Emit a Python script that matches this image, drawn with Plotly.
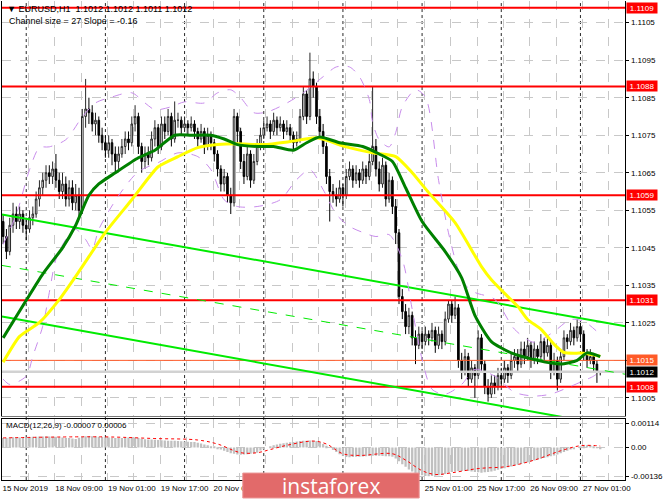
import plotly.graph_objects as go

W, H = 665, 499

# ---------------- price data (EURUSD H1) ----------------
open_ = [1.1052,1.1048,1.1044,1.1051,1.1054,1.1052,1.1054,1.1051,1.1050,1.1053,
 1.1054,1.1058,1.1061,1.1063,1.1065,1.1064,1.1066,1.1063,1.1060,1.1062,
 1.1058,1.1061,1.1057,1.1059,1.1055,1.1080,1.1082,1.1081,1.1078,1.1079,
 1.1075,1.1073,1.1071,1.1073,1.1070,1.1068,1.1070,1.1072,1.1074,1.1073,
 1.1078,1.1080,1.1072,1.1068,1.1070,1.1069,1.1074,1.1077,1.1072,1.1078,
 1.1076,1.1080,1.1074,1.1079,1.1079,1.1077,1.1078,1.1077,1.1078,1.1076,
 1.1074,1.1076,1.1072,1.1075,1.1073,1.1070,1.1066,1.1062,1.1064,1.1059,
 1.1057,1.1080,1.1076,1.1068,1.1064,1.1070,1.1063,1.1068,1.1072,1.1075,
 1.1077,1.1078,1.1076,1.1079,1.1077,1.1078,1.1076,1.1077,1.1075,1.1073,
 1.1074,1.1080,1.1086,1.1080,1.1090,1.1088,1.1080,1.1076,1.1072,1.1064,
 1.1060,1.1059,1.1058,1.1061,1.1059,1.1064,1.1066,1.1063,1.1065,1.1063,
 1.1066,1.1064,1.1068,1.1072,1.1066,1.1062,1.1067,1.1058,1.1063,1.1056,
 1.1049,1.1032,1.1028,1.1024,1.1027,1.1021,1.1019,1.1022,1.1020,1.1022,
 1.1021,1.1023,1.1019,1.1022,1.1020,1.1026,1.1030,1.1027,1.1029,1.1015,
 1.1012,1.1016,1.1010,1.1013,1.1011,1.1021,1.1014,1.1008,1.1006,1.1009,
 1.1008,1.1011,1.1010,1.1013,1.1011,1.1015,1.1016,1.1014,1.1018,1.1016,
 1.1019,1.1015,1.1018,1.1016,1.1020,1.1017,1.1019,1.1012,1.1015,1.1010,
 1.1016,1.1021,1.1020,1.1023,1.1021,1.1024,1.1022,1.1017,1.1015,1.1016,
 1.1014,1.1012]

high = [1.1054,1.1050,1.1053,1.1057,1.1056,1.1056,1.1055,1.1053,1.1055,1.1056,
 1.1060,1.1063,1.1065,1.1067,1.1067,1.1068,1.1070,1.1065,1.1065,1.1064,
 1.1063,1.1063,1.1062,1.1061,1.1082,1.1090,1.1085,1.1083,1.1081,1.1080,
 1.1077,1.1075,1.1075,1.1074,1.1072,1.1072,1.1074,1.1076,1.1076,1.1080,
 1.1083,1.1081,1.1073,1.1072,1.1072,1.1076,1.1079,1.1078,1.1080,1.1080,
 1.1082,1.1081,1.1084,1.1081,1.1080,1.1080,1.1079,1.1080,1.1079,1.1077,
 1.1078,1.1077,1.1077,1.1076,1.1074,1.1071,1.1067,1.1066,1.1065,1.1061,
 1.1082,1.1081,1.1077,1.1070,1.1072,1.1071,1.1070,1.1074,1.1077,1.1079,
 1.1080,1.1079,1.1081,1.1080,1.1080,1.1079,1.1079,1.1078,1.1076,1.1076,
 1.1082,1.1088,1.1087,1.1097,1.1092,1.1089,1.1082,1.1078,1.1073,1.1066,
 1.1062,1.1061,1.1063,1.1062,1.1066,1.1068,1.1067,1.1067,1.1066,1.1068,
 1.1067,1.1070,1.1088,1.1074,1.1068,1.1069,1.1068,1.1065,1.1064,1.1058,
 1.1050,1.1034,1.1030,1.1029,1.1028,1.1023,1.1024,1.1023,1.1024,1.1023,
 1.1025,1.1024,1.1024,1.1023,1.1028,1.1031,1.1031,1.1032,1.1030,1.1017,
 1.1018,1.1017,1.1015,1.1014,1.1023,1.1022,1.1015,1.1010,1.1011,1.1011,
 1.1013,1.1013,1.1015,1.1014,1.1017,1.1018,1.1018,1.1020,1.1020,1.1021,
 1.1020,1.1020,1.1019,1.1022,1.1021,1.1021,1.1020,1.1017,1.1016,1.1018,
 1.1023,1.1022,1.1025,1.1024,1.1026,1.1025,1.1023,1.1018,1.1018,1.1017,
 1.1015,1.1012]

low = [1.1046,1.1042,1.1043,1.1049,1.1050,1.1050,1.1049,1.1047,1.1049,1.1051,
 1.1053,1.1056,1.1059,1.1061,1.1062,1.1062,1.1061,1.1058,1.1058,1.1056,
 1.1056,1.1055,1.1055,1.1053,1.1054,1.1077,1.1078,1.1076,1.1075,1.1073,
 1.1071,1.1069,1.1069,1.1067,1.1065,1.1066,1.1069,1.1070,1.1071,1.1072,
 1.1076,1.1070,1.1065,1.1066,1.1067,1.1068,1.1072,1.1070,1.1071,1.1074,
 1.1075,1.1072,1.1073,1.1077,1.1075,1.1076,1.1075,1.1076,1.1074,1.1072,
 1.1073,1.1070,1.1071,1.1071,1.1068,1.1064,1.1060,1.1060,1.1057,1.1054,
 1.1056,1.1073,1.1066,1.1062,1.1063,1.1061,1.1062,1.1067,1.1071,1.1074,
 1.1076,1.1074,1.1075,1.1075,1.1076,1.1074,1.1075,1.1073,1.1071,1.1072,
 1.1073,1.1079,1.1078,1.1079,1.1085,1.1078,1.1074,1.1070,1.1062,1.1052,
 1.1057,1.1056,1.1057,1.1056,1.1058,1.1063,1.1061,1.1062,1.1061,1.1062,
 1.1062,1.1063,1.1067,1.1064,1.1060,1.1061,1.1056,1.1057,1.1054,1.1046,
 1.1030,1.1026,1.1022,1.1022,1.1019,1.1014,1.1018,1.1018,1.1019,1.1019,
 1.1020,1.1017,1.1018,1.1018,1.1019,1.1025,1.1025,1.1026,1.1013,1.1010,
 1.1011,1.1008,1.1009,1.1005,1.1010,1.1012,1.1006,1.1004,1.1005,1.1006,
 1.1007,1.1008,1.1009,1.1009,1.1010,1.1013,1.1012,1.1013,1.1014,1.1015,
 1.1013,1.1014,1.1014,1.1015,1.1015,1.1016,1.1010,1.1011,1.1007,1.1009,
 1.1015,1.1018,1.1019,1.1019,1.1020,1.1020,1.1015,1.1013,1.1014,1.1012,
 1.1009,1.1011]

close = [1.1048,1.1044,1.1051,1.1054,1.1052,1.1054,1.1051,1.1050,1.1053,1.1054,
 1.1058,1.1061,1.1063,1.1065,1.1064,1.1066,1.1063,1.1060,1.1062,1.1058,
 1.1061,1.1057,1.1059,1.1055,1.1080,1.1082,1.1081,1.1078,1.1079,1.1075,
 1.1073,1.1071,1.1073,1.1070,1.1068,1.1070,1.1072,1.1074,1.1073,1.1078,
 1.1080,1.1072,1.1068,1.1070,1.1069,1.1074,1.1077,1.1072,1.1078,1.1076,
 1.1080,1.1074,1.1079,1.1079,1.1077,1.1078,1.1077,1.1078,1.1076,1.1074,
 1.1076,1.1072,1.1075,1.1073,1.1070,1.1066,1.1062,1.1064,1.1059,1.1057,
 1.1080,1.1076,1.1068,1.1064,1.1070,1.1063,1.1068,1.1072,1.1075,1.1077,
 1.1078,1.1076,1.1079,1.1077,1.1078,1.1076,1.1077,1.1075,1.1073,1.1074,
 1.1080,1.1086,1.1080,1.1090,1.1088,1.1080,1.1076,1.1072,1.1064,1.1060,
 1.1059,1.1058,1.1061,1.1059,1.1064,1.1066,1.1063,1.1065,1.1063,1.1066,
 1.1064,1.1068,1.1072,1.1066,1.1062,1.1067,1.1058,1.1063,1.1056,1.1049,
 1.1032,1.1028,1.1024,1.1027,1.1021,1.1019,1.1022,1.1020,1.1022,1.1021,
 1.1023,1.1019,1.1022,1.1020,1.1026,1.1030,1.1027,1.1029,1.1015,1.1012,
 1.1016,1.1010,1.1013,1.1011,1.1021,1.1014,1.1008,1.1006,1.1009,1.1008,
 1.1011,1.1010,1.1013,1.1011,1.1015,1.1016,1.1014,1.1018,1.1016,1.1019,
 1.1015,1.1018,1.1016,1.1020,1.1017,1.1019,1.1012,1.1015,1.1010,1.1016,
 1.1021,1.1020,1.1023,1.1021,1.1024,1.1022,1.1017,1.1015,1.1016,1.1014,
 1.1012,1.1012]

bars = list(range(len(close)))

# moving averages
ma_green_x = [0, 7, 12, 18, 22, 26, 29, 34, 41, 46, 52, 57, 63, 67, 71, 77, 82, 88, 92, 96,
              102, 109, 114, 118, 122, 127, 134, 139, 143, 148, 154, 162, 169, 174, 177, 181]
ma_green = [1.1021, 1.1031, 1.1038, 1.1045, 1.1051, 1.1059, 1.1062, 1.1065, 1.1069, 1.1071,
            1.1075, 1.1075, 1.1075, 1.1074, 1.10725, 1.1072, 1.1072, 1.1071, 1.1073, 1.10745,
            1.1073, 1.1072, 1.1070, 1.1068, 1.1061, 1.1052, 1.1044, 1.1037, 1.1027, 1.1020,
            1.1017, 1.1015, 1.1014, 1.1015, 1.1017, 1.1016]

ma_yellow_x = [0, 5, 11, 17, 23, 31, 39, 47, 53, 59, 65, 71, 79, 87, 95, 104, 112, 119, 124,
               129, 137, 145, 148, 153, 156, 159, 163, 167, 170, 176, 181]
ma_yellow = [1.10145, 1.10214, 1.10251, 1.10312, 1.10387, 1.10491, 1.10578, 1.10666, 1.10693,
             1.10717, 1.10725, 1.10727, 1.10725, 1.10733, 1.10743, 1.10719, 1.10703, 1.10693,
             1.10650, 1.10597, 1.10517, 1.10400, 1.10365, 1.10320, 1.10294, 1.10259, 1.10233,
             1.10193, 1.10171, 1.10169, 1.10161]

# bollinger-style bands
bb_up_x = [0, 4, 8, 11, 14, 19, 24, 28, 33, 39, 43, 46, 51, 55, 61, 65, 69, 72, 76, 80,
           85, 91, 97, 101, 105, 108, 111, 112, 114, 117, 119, 121, 125, 128, 132, 135, 138, 140,
           143, 149, 155, 161, 167, 172, 176, 181]
bb_up = [1.10459, 1.10539, 1.10658, 1.10717, 1.10719, 1.10738, 1.10799, 1.10836, 1.10852, 1.10863,
         1.10836, 1.10818, 1.10826, 1.10839, 1.10836, 1.10863, 1.10871, 1.10850, 1.10810, 1.10812,
         1.10831, 1.10863, 1.10906, 1.10932, 1.10932, 1.10906, 1.10845, 1.10784, 1.10738, 1.10719,
         1.10757, 1.10826, 1.10871, 1.10852, 1.10630, 1.10490, 1.10390, 1.10352, 1.10331, 1.10313,
         1.10233, 1.10198, 1.10227, 1.10259, 1.10254, 1.10219]
bb_lo_x = [0, 2, 7, 9, 12, 14, 16, 19, 22, 25, 27, 29, 35, 41, 47, 53, 59, 63, 67, 71,
           77, 84, 89, 93, 97, 101, 105, 109, 113, 117, 121, 124, 127, 130, 134, 139, 143, 149,
           155, 161, 166, 170, 175, 179, 181]
bb_lo = [1.10100, 1.10086, 1.10108, 1.10161, 1.10241, 1.10331, 1.10419, 1.10472, 1.10499, 1.10472,
         1.10446, 1.10499, 1.10589, 1.10653, 1.10677, 1.10703, 1.10693, 1.10658, 1.10578, 1.10560,
         1.10560, 1.10578, 1.10632, 1.10658, 1.10605, 1.10539, 1.10507, 1.10491, 1.10480, 1.10485,
         1.10419, 1.10286, 1.10153, 1.10073, 1.10060, 1.10086, 1.10126, 1.10108, 1.10065, 1.10055,
         1.10060, 1.10073, 1.10092, 1.10108, 1.10121]

# regression channel (two anchor points each)
channel_x = [-0.35, 188.6]
channel_upper = [1.10539, 1.10241]
channel_mid = [1.10403, 1.10113]
channel_lower = [1.10267, 1.09969]

# horizontal levels
red_levels = [1.1109, 1.1088, 1.1059, 1.1031, 1.1008]
orange_level = 1.1015
bid_level = 1.1012

# MACD (x 1e-5)
macd_hist_e5 = [44,45,47,48,48,47,47,48,49,50,
 51,52,52,53,52,51,50,48,47,45,
 44,42,40,46,50,53,54,53,52,50,
 49,48,47,46,45,45,45,46,47,48,
 47,44,41,39,38,37,36,35,34,33,
 32,31,31,30,29,28,27,26,25,22,
 18,14,10,6,2,-4,-10,-16,-22,-28,
 -30,-33,-35,-34,-32,-30,-28,-25,-15,-6,
 0,6,10,14,17,20,22,24,26,28,
 30,31,32,33,32,30,24,16,8,0,
 -12,-22,-32,-40,-45,-46,-45,-44,-44,-43,
 -42,-41,-40,-40,-40,-41,-42,-42,-44,-52,
 -65,-80,-92,-104,-114,-122,-128,-132,-135,-136,
 -135,-134,-132,-130,-126,-120,-116,-114,-112,-111,
 -110,-112,-114,-116,-118,-120,-118,-116,-114,-110,
 -106,-102,-98,-94,-90,-86,-82,-78,-74,-70,
 -66,-62,-58,-54,-50,-46,-42,-38,-33,-28,
 -22,-16,-10,-4,0,4,8,10,10,6,
 -2,-7]
macd_sig_x = [0, 30, 46, 59, 65, 72, 77, 81, 86, 94, 98, 103, 108, 118, 122, 127, 131, 136,
              144, 153, 161, 169, 175, 180, 181]
macd_sig_e5 = [45, 50, 42, 35, 16, -25, -25, -10, 10, 30, 16, -30, -38, -30, -60, -110, -128,
               -120, -100, -90, -60, -16, 8, 8, 6]

# axes
price_ticks = [1.1005, 1.1015, 1.1025, 1.1035, 1.1045, 1.1055, 1.1065, 1.1075, 1.1085, 1.1095, 1.1105]
macd_ticks = [0.00114, 0.0, -0.00136]
macd_tick_text = ["0.00114", "0.00", "-0.00136"]
date_labels = ["15 Nov 2019", "18 Nov 09:00", "19 Nov 01:00", "19 Nov 17:00", "20 Nov 09:00",
               "21 Nov 01:00", "21 Nov 17:00", "22 Nov 09:00", "25 Nov 01:00", "25 Nov 17:00",
               "26 Nov 09:00", "27 Nov 01:00"]
# labels fully hidden behind the watermark in the original are left blank
hidden_labels = {"21 Nov 01:00", "21 Nov 17:00", "22 Nov 09:00"}
grid_bars = [-0.35 + 8 * k for k in range(24)]
grid_text = [(date_labels[k // 2] if date_labels[k // 2] not in hidden_labels else "")
             if k % 2 == 0 else "" for k in range(24)]
day_separators = [7, 31, 55, 79, 103, 127, 151, 175]

x_range = [-0.35, 188.6]
FONT = "Liberation Sans"
GRID = "rgb(200,200,200)"

fig = go.Figure()

# levels
for lv in red_levels:
    fig.add_trace(go.Scatter(x=x_range, y=[lv, lv], mode="lines",
                             line=dict(color="rgb(255,0,0)", width=2), hoverinfo="skip"))
fig.add_trace(go.Scatter(x=x_range, y=[bid_level, bid_level], mode="lines",
                         line=dict(color="rgb(210,210,210)", width=2.5), hoverinfo="skip"))
fig.add_trace(go.Scatter(x=x_range, y=[orange_level, orange_level], mode="lines",
                         line=dict(color="rgb(255,90,40)", width=1), hoverinfo="skip"))

# channel
fig.add_trace(go.Scatter(x=channel_x, y=channel_upper, mode="lines",
                         line=dict(color="rgb(0,235,0)", width=2), hoverinfo="skip"))
fig.add_trace(go.Scatter(x=channel_x, y=channel_mid, mode="lines",
                         line=dict(color="rgb(0,235,0)", width=1, dash="dash"), hoverinfo="skip"))
fig.add_trace(go.Scatter(x=channel_x, y=channel_lower, mode="lines",
                         line=dict(color="rgb(0,235,0)", width=2), hoverinfo="skip"))

# candles
fig.add_trace(go.Candlestick(
    x=bars, open=open_, high=high, low=low, close=close,
    increasing=dict(line=dict(color="rgb(40,40,40)", width=1), fillcolor="white"),
    decreasing=dict(line=dict(color="black", width=1), fillcolor="black"),
    whiskerwidth=0, hoverinfo="skip"))

# bands
for bx, by in ((bb_up_x, bb_up), (bb_lo_x, bb_lo)):
    fig.add_trace(go.Scatter(x=bx, y=by, mode="lines",
                             line=dict(color="rgb(200,140,235)", width=1, dash="dash",
                                       shape="spline", smoothing=0.8), hoverinfo="skip"))

# MAs
fig.add_trace(go.Scatter(x=ma_yellow_x, y=ma_yellow, mode="lines",
                         line=dict(color="rgb(255,255,0)", width=3, shape="spline", smoothing=0.6),
                         hoverinfo="skip"))
fig.add_trace(go.Scatter(x=ma_green_x, y=ma_green, mode="lines",
                         line=dict(color="rgb(0,128,0)", width=3, shape="spline", smoothing=0.6),
                         hoverinfo="skip"))

# MACD
fig.add_trace(go.Bar(x=bars, y=[v * 1e-5 for v in macd_hist_e5], width=0.7,
                     marker=dict(color="rgb(192,192,192)", line=dict(width=0)),
                     xaxis="x2", yaxis="y2", hoverinfo="skip"))
fig.add_trace(go.Scatter(x=macd_sig_x, y=[v * 1e-5 for v in macd_sig_e5], mode="lines",
                         line=dict(color="rgb(255,0,0)", width=1, dash="dot", shape="spline"),
                         xaxis="x2", yaxis="y2", hoverinfo="skip"))

shapes = []
for b in day_separators:
    shapes.append(dict(type="line", xref="x", yref="paper", x0=b, x1=b,
                       y0=1 - 481 / H, y1=1, line=dict(color="rgb(40,40,40)", width=1, dash="dot"),
                       layer="between"))
# watermark
shapes.append(dict(type="rect", xref="paper", yref="paper", x0=245 / W, x1=423 / W,
                   y0=0, y1=1 - 474 / H, fillcolor="rgb(226,106,106)",
                   line=dict(color="rgb(236,150,150)", width=1), layer="above"))

box_font = dict(family=FONT, size=8, color="white")
annotations = []
for lv in red_levels:
    annotations.append(dict(x=632 / W, xref="paper", y=lv, yref="y", xanchor="left",
                            text=f"{lv:.4f}", showarrow=False, bgcolor="rgb(255,0,0)",
                            font=box_font, width=30, height=10, borderpad=0))
annotations.append(dict(x=632 / W, xref="paper", y=orange_level, yref="y", xanchor="left",
                        text=f"{orange_level:.4f}", showarrow=False, bgcolor="rgb(255,90,40)",
                        font=box_font, width=30, height=10, borderpad=0))
annotations.append(dict(x=632 / W, xref="paper", y=bid_level, yref="y", xanchor="left",
                        text=f"{bid_level:.4f}", showarrow=False, bgcolor="black",
                        font=box_font, width=30, height=10, borderpad=0))
annotations.append(dict(x=5 / W, xref="paper", y=1 - 9 / H, yref="paper", xanchor="left",
                        yanchor="middle", showarrow=False,
                        text="▼ EURUSD,H1  1.1012 1.1012 1.1011 1.1012",
                        font=dict(family=FONT, size=9, color="black")))
annotations.append(dict(x=7 / W, xref="paper", y=1 - 21 / H, yref="paper", xanchor="left",
                        yanchor="middle", showarrow=False,
                        text="Channel size = 27 Slope = -0.16",
                        font=dict(family=FONT, size=9, color="black")))
annotations.append(dict(x=4 / W, xref="paper", y=1 - 426 / H, yref="paper", xanchor="left",
                        yanchor="middle", showarrow=False,
                        text="MACD(12,26,9) -0.00007 0.00006",
                        font=dict(family=FONT, size=8, color="black")))
annotations.append(dict(x=334 / W, xref="paper", y=1 - 487 / H, yref="paper", xanchor="center",
                        yanchor="middle", showarrow=False, text="instaforex",
                        font=dict(family="Open Sans", size=21, color="white")))

axis_font = dict(family=FONT, size=8, color="black")
fig.update_layout(
    width=W, height=H, margin=dict(l=0, r=0, t=0, b=0),
    paper_bgcolor="white", plot_bgcolor="white", showlegend=False,
    shapes=shapes, annotations=annotations,
    xaxis=dict(domain=[2 / W, 631 / W], range=x_range, anchor="y", tickvals=grid_bars,
               showticklabels=False, ticks="", showgrid=True, gridcolor=GRID, griddash="dash",
               zeroline=False, showline=True, linecolor="rgb(120,120,120)",
               rangeslider=dict(visible=False), fixedrange=True),
    yaxis=dict(domain=[1 - 417 / H, 1 - 1 / H], range=[1.100013, 1.111077], anchor="x",
               side="right", tickvals=price_ticks, ticktext=[f"{v:.4f}" for v in price_ticks],
               ticks="outside", ticklen=3, tickcolor="black", tickfont=axis_font,
               showgrid=True, gridcolor=GRID, griddash="dash", zeroline=False,
               showline=True, linecolor="black", mirror=True, fixedrange=True),
    xaxis2=dict(domain=[2 / W, 631 / W], range=x_range, anchor="y2", tickvals=grid_bars,
                ticktext=grid_text, ticklabelposition="outside right", tickangle=0, ticks="",
                tickfont=axis_font, showgrid=True, gridcolor=GRID, griddash="dash",
                zeroline=False, showline=True, linecolor="black", mirror=True, fixedrange=True),
    yaxis2=dict(domain=[1 - 481 / H, 1 - 420 / H], range=[-0.001543, 0.001336], anchor="x2",
                side="right", tickvals=macd_ticks, ticktext=macd_tick_text, ticks="outside",
                ticklen=3, tickcolor="black", tickfont=axis_font, showgrid=True,
                gridcolor=GRID, griddash="dash", zeroline=False, showline=True,
                linecolor="black", mirror=True, fixedrange=True),
    bargap=0.3,
)

fig.write_html("out.html", config={"displayModeBar": False},
               post_script="document.body.style.margin='0';document.body.style.padding='0';"
                           "document.documentElement.style.overflow='hidden';")
